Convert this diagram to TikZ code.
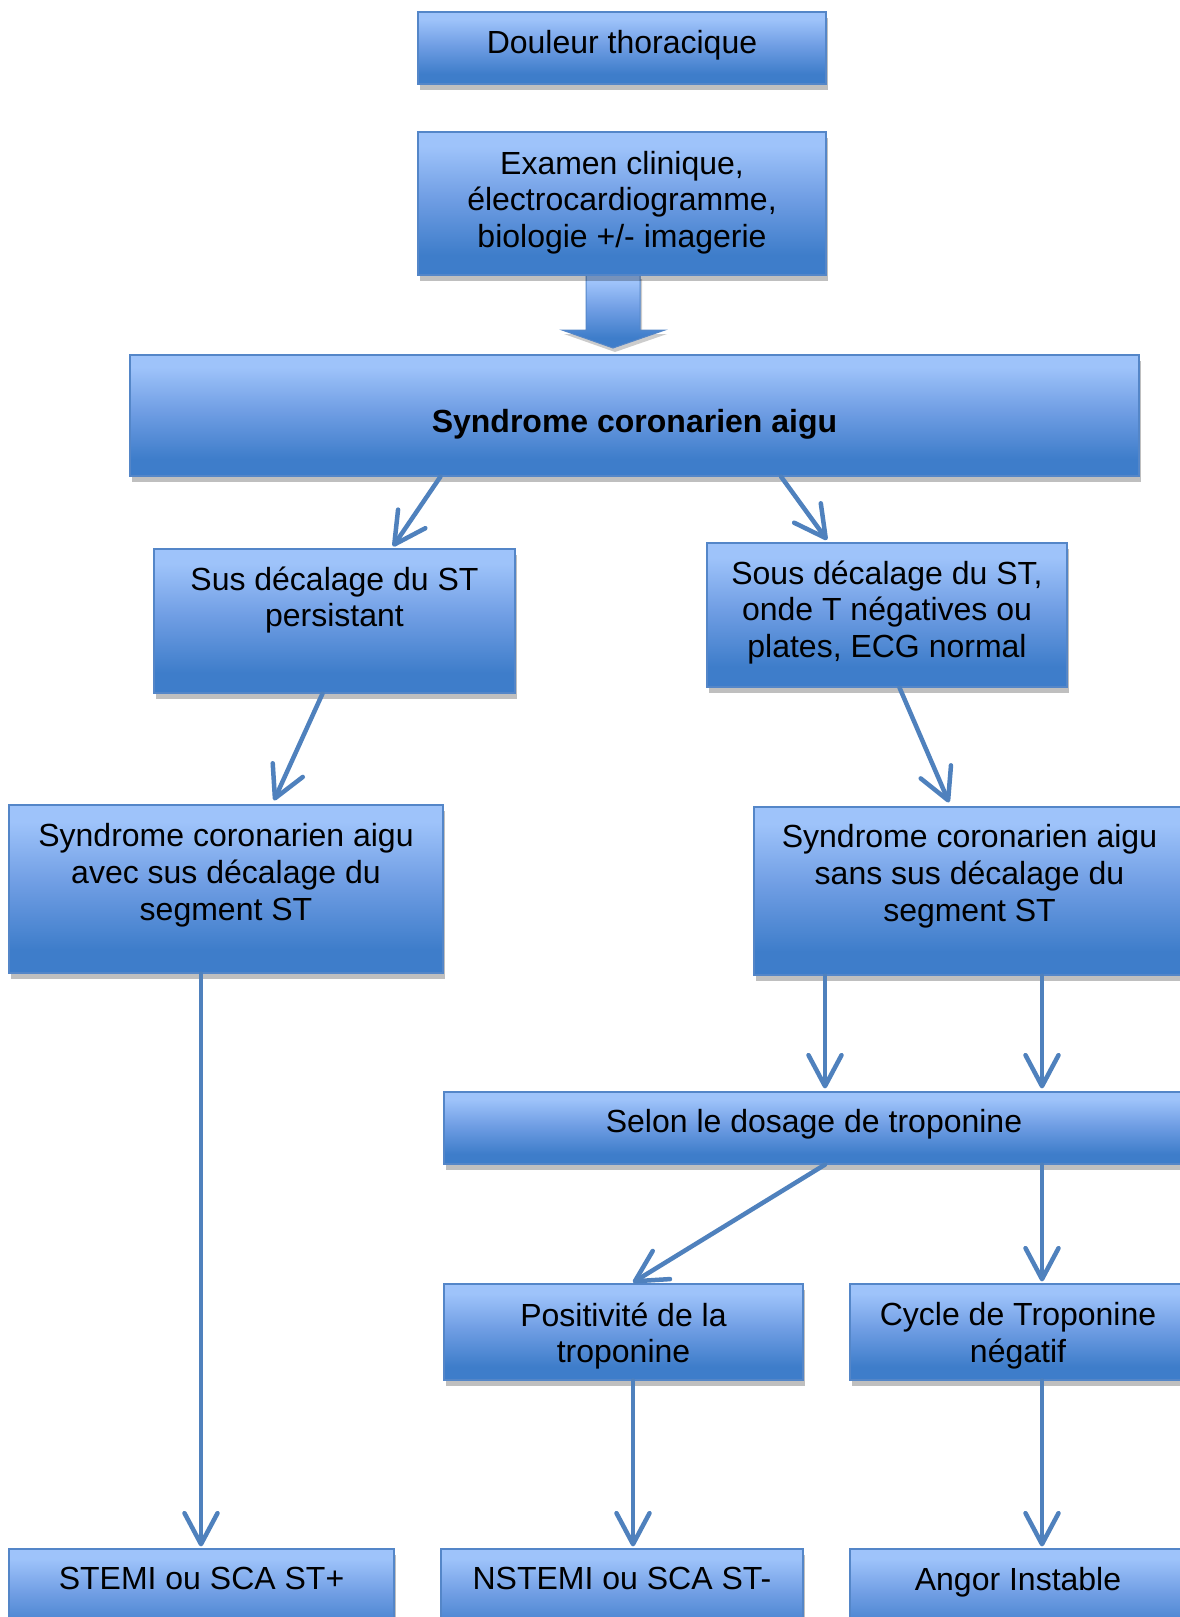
\documentclass[tikz,border=0pt]{standalone}
\usepackage{fontspec}
\setmainfont{Liberation Sans}
\usetikzlibrary{arrows.meta,shadows}
\definecolor{blight}{RGB}{158,195,250}
\definecolor{bmid}{RGB}{112,158,228}
\definecolor{bdark}{RGB}{62,125,202}
\definecolor{bborder}{RGB}{84,134,200}
\definecolor{lineblue}{RGB}{79,129,189}
\pgfdeclareverticalshading{boxshade}{100bp}{color(0bp)=(bdark); color(25bp)=(bdark); color(32bp)=(bdark); color(52bp)=(bmid); color(70bp)=(blight); color(75bp)=(blight); color(100bp)=(blight)}
\tikzset{
  box/.style={rectangle, draw=bborder, line width=1.2pt, shade, shading=boxshade, inner sep=0pt,
    drop shadow={shadow xshift=2pt, shadow yshift=-6pt, fill=black, opacity=0.25}},
  txt/.style={inner sep=0pt, align=center, text=black, font=\fontsize{32}{36.7}\selectfont},
  arr/.style={draw=lineblue, line width=4.5pt, line cap=round,
    -{Straight Barb[length=31pt,width=33pt,round]}}
}
\begin{document}
\begin{tikzpicture}[x=1pt,y=-1pt]
\useasboundingbox (0,0) rectangle (1180,1617);
\clip (0,0) rectangle (1180,1617);
\fill[white] (0,0) rectangle (1180,1617);

% block arrow
\shade[shading=boxshade, draw=bborder, line width=1pt,
  drop shadow={shadow xshift=2pt, shadow yshift=-4pt, fill=black, opacity=0.2}]
  (586,275) -- (640,275) -- (640,330) -- (665,330) -- (613,348) -- (562,330) -- (586,330) -- cycle;

% boxes
\node[box, minimum width=408pt, minimum height=72pt]  (dou)    at (622,48) {};
\node[box, minimum width=408pt, minimum height=143pt] (exa)    at (622,203.5) {};
\node[box, minimum width=1009pt, minimum height=121pt] (sca)   at (634.5,415.5) {};
\node[box, minimum width=361pt, minimum height=144pt] (sus)    at (334.5,621) {};
\node[box, minimum width=360pt, minimum height=144pt] (sous)   at (887,615) {};
\node[box, minimum width=434pt, minimum height=168pt] (avec)   at (226,889) {};
\node[box, minimum width=431pt, minimum height=168pt] (sans)   at (969.5,891) {};
\node[box, minimum width=740pt, minimum height=72pt]  (selon)  at (814,1128) {};
\node[box, minimum width=359pt, minimum height=96pt]  (pos)    at (623.5,1332) {};
\node[box, minimum width=336pt, minimum height=96pt]  (cyc)    at (1018,1332) {};
\node[box, minimum width=385pt, minimum height=96pt]  (stemi)  at (201.5,1597) {};
\node[box, minimum width=362pt, minimum height=96pt]  (nstemi) at (622,1597) {};
\node[box, minimum width=336pt, minimum height=96pt]  (angor)  at (1018,1597) {};

% texts
\node[txt, anchor=north] (tdou) at ([yshift=-19pt]dou.north) {Douleur thoracique};
\node[txt, anchor=north] (texa) at ([yshift=-19.5pt]exa.north) {Examen clinique,\\électrocardiogramme,\\biologie +/- imagerie};
\node[txt, anchor=base, font=\fontsize{32}{36.7}\selectfont\bfseries] (tsca) at ([yshift=-16.5pt]sca.center) {Syndrome coronarien aigu};
\node[txt, anchor=north] (tsus) at ([yshift=-18pt]sus.north) {Sus décalage du ST\\persistant};
\node[txt, anchor=north] (tsous) at ([yshift=-18pt]sous.north) {Sous décalage du ST,\\onde T négatives ou\\plates, ECG normal};
\node[txt, anchor=north] (tavec) at ([yshift=-19pt]avec.north) {Syndrome coronarien aigu\\avec sus décalage du\\segment ST};
\node[txt, anchor=north] (tsans) at ([yshift=-18pt]sans.north) {Syndrome coronarien aigu\\sans sus décalage du\\segment ST};
\node[txt, anchor=north] (tselon) at ([yshift=-18pt]selon.north) {Selon le dosage de troponine};
\node[txt, anchor=north] (tpos) at ([yshift=-19pt]pos.north) {Positivité de la\\troponine};
\node[txt, anchor=north] (tcyc) at ([yshift=-19pt]cyc.north) {Cycle de Troponine\\négatif};
\node[txt, anchor=north] (tstemi) at ([yshift=-19pt]stemi.north) {STEMI ou SCA ST+};
\node[txt, anchor=north] (tnstemi) at ([yshift=-19pt]nstemi.north) {NSTEMI ou SCA ST-};
\node[txt, anchor=north] (tangor) at ([yshift=-19pt]angor.north) {Angor Instable};

% connectors
\draw[arr] ([xshift=-194pt]sca.south) -- ([xshift=58.5pt,yshift=2pt]sus.north);
\draw[arr] ([xshift=146.5pt]sca.south) -- ([xshift=-60pt,yshift=2.5pt]sous.north);
\draw[arr] ([xshift=-12pt]sus.south) -- ([xshift=48pt,yshift=4pt]avec.north);
\draw[arr] ([xshift=12.5pt]sous.south) -- ([xshift=-20.5pt,yshift=4pt]sans.north);
\draw[arr] ([xshift=-25pt]avec.south) -- ([xshift=-0.5pt,yshift=2pt]stemi.north);
\draw[arr] ([xshift=-144.5pt]sans.south) -- ([xshift=11pt,yshift=3pt]selon.north);
\draw[arr] ([xshift=72.5pt]sans.south) -- ([xshift=228pt,yshift=3pt]selon.north);
\draw[arr] ([xshift=11pt]selon.south) -- ([xshift=9.5pt,yshift=1pt]pos.north);
\draw[arr] ([xshift=228pt]selon.south) -- ([xshift=24pt,yshift=2pt]cyc.north);
\draw[arr] ([xshift=9.5pt]pos.south) -- ([xshift=11pt,yshift=2pt]nstemi.north);
\draw[arr] ([xshift=24pt]cyc.south) -- ([xshift=24pt,yshift=2pt]angor.north);
\end{tikzpicture}
\end{document}
